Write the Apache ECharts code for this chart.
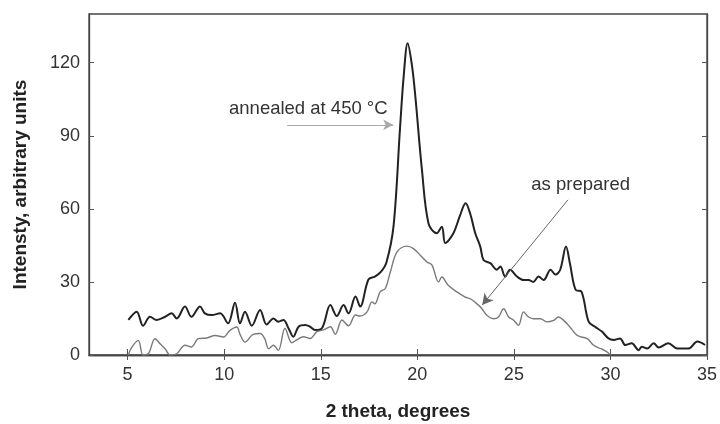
<!DOCTYPE html>
<html>
<head>
<meta charset="utf-8">
<script src="https://cdn.jsdelivr.net/npm/echarts@6/dist/echarts.min.js"></script>
<style>html,body{margin:0;padding:0;background:#fff}#c{width:720px;height:424px}</style>
</head>
<body>
<div id="c"></div>
<script>
var xTicks = [5, 10, 15, 20, 25, 30, 35];
var yTicks = [0, 30, 60, 90, 120];

var annealed = [
[5.04,14.4],[5.47,17.8],[5.8,12],[6.16,15.7],[6.5,14.4],[6.94,15.7],[7.28,17.1],[7.54,15],[7.97,19.9],[8.3,15.7],[8.75,19.9],[9.0,17.1],[9.36,16.4],[9.79,17.1],[10.2,13],[10.56,21.5],[10.82,13],[11.08,17.8],[11.43,12],[11.86,18.5],[12.2,12.5],[12.55,15],[12.8,13.7],[13.07,14.4],[13.33,11],[13.58,7.5],[13.85,11.6],[14.2,12.3],[14.45,11.6],[14.7,10.3],[15.06,11],[15.5,20.5],[15.83,16],[16.18,20.5],[16.44,17.1],[16.8,24],[17.04,19.9],[17.47,31],[17.8,32.2],[18.1,34],[18.4,38],[18.77,53],[19.1,92.5],[19.3,115],[19.5,128],[19.72,119],[19.9,106],[20.24,76],[20.58,54],[21.0,50],[21.27,52.7],[21.45,46],[21.87,50],[22.2,57],[22.5,62.3],[22.74,58],[23.0,50],[23.26,44.5],[23.43,39],[23.78,37.7],[24.12,35],[24.3,36.3],[24.55,32.2],[24.8,35],[25.16,32.2],[25.5,30.8],[25.76,30.8],[26.0,30],[26.28,32.2],[26.54,30.8],[26.9,35],[27.15,33],[27.4,35],[27.7,44.5],[27.9,37.7],[28.2,26.7],[28.5,26],[28.87,13.7],[29.2,11.6],[29.56,9.6],[29.9,6.8],[30.17,6.2],[30.5,6.8],[30.77,4.1],[31.1,4.8],[31.46,2],[31.63,3.4],[31.9,2.7],[32.24,4.8],[32.5,3.1],[33.0,4.8],[33.45,2.7],[34.05,2.7],[34.5,5.5],[34.9,4.1]
];

var asPrepared = [
[5.04,0],[5.2,3],[5.55,6],[5.8,0],[6.07,0.5],[6.42,6.7],[6.68,4.6],[6.94,2.6],[7.2,0],[7.54,0.5],[7.97,4],[8.3,3.3],[8.66,6.7],[9.1,7],[9.53,8],[9.96,7.4],[10.3,10.1],[10.65,11.5],[10.82,8.5],[11.08,5.3],[11.5,8.5],[11.86,8.8],[12.1,6.7],[12.3,2.6],[12.55,4],[12.8,1.9],[13.15,11],[13.5,5],[13.76,6.2],[14.1,7.5],[14.45,6.8],[14.8,9.6],[15.14,10.3],[15.5,11.6],[15.75,8.5],[16.1,14.4],[16.44,12],[16.8,16.4],[17.04,16],[17.4,17.7],[17.65,21.8],[17.8,21],[18.08,26],[18.34,27.3],[18.6,34],[18.95,42.3],[19.46,44.7],[19.8,43.7],[20.15,41],[20.5,38.2],[20.76,36.9],[21.1,30],[21.27,32],[21.6,28.6],[22.05,25.9],[22.48,23.8],[22.74,23.1],[23.09,21],[23.35,19],[23.6,16.3],[23.95,14.9],[24.2,15.6],[24.47,19],[24.73,15.6],[25.0,14.2],[25.24,12.2],[25.5,17.7],[25.76,15.6],[26.02,14.9],[26.37,14.9],[26.7,13.6],[27.06,14.2],[27.3,15.6],[27.66,13.6],[27.9,11.5],[28.27,8.1],[28.5,7.4],[28.8,6.7],[29.13,4],[29.5,2.6],[29.8,1.4],[30.0,0]
];

var annealedLabel = 'annealed at 450 °C';
var preparedLabel = 'as prepared';
var annealedArrow = [[13.26, 94.5], [18.75, 94.5]];
var preparedArrow = [[27.8, 63.7], [23.36, 20.5]];
var annealedLabelAt = [10.25, 101];
var preparedLabelAt = [25.9, 69.9];

var FONT = 'Liberation Sans, Arial, sans-serif';
var chart = echarts.init(document.getElementById('c'), null, {renderer: 'canvas'});

var axisLine = {show: true, lineStyle: {color: '#444', width: 1.3}};
var option = {
  animation: false,
  backgroundColor: '#fff',
  grid: {left: 89, right: 13, top: 14, bottom: 69, show: true, borderColor: '#444', borderWidth: 1.3, containLabel: false, outerBoundsMode: 'none'},
  xAxis: [{
    type: 'value', min: 3, max: 35, position: 'bottom',
    name: '2 theta, degrees', nameLocation: 'middle', nameGap: 47,
    nameTextStyle: {fontFamily: FONT, fontSize: 19, fontWeight: 'bold', color: '#222'},
    axisLine: axisLine,
    axisTick: {show: true, inside: true, length: 6, customValues: xTicks, lineStyle: {color: '#555'}},
    axisLabel: {show: true, customValues: xTicks, margin: 11, fontFamily: FONT, fontSize: 18, color: '#333'},
    splitLine: {show: false}
  }, {
    type: 'value', min: 3, max: 35, position: 'top',
    axisLine: axisLine,
    axisTick: {show: true, inside: true, length: 5, customValues: xTicks, lineStyle: {color: '#555'}},
    axisLabel: {show: false},
    splitLine: {show: false}
  }],
  yAxis: [{
    type: 'value', min: 0, max: 140, position: 'left',
    name: 'Intensty, arbitrary units', nameLocation: 'middle', nameGap: 59,
    nameTextStyle: {fontFamily: FONT, fontSize: 19, fontWeight: 'bold', color: '#222'},
    axisLine: axisLine,
    axisTick: {show: true, inside: true, length: 5, customValues: yTicks, lineStyle: {color: '#555'}},
    axisLabel: {show: true, customValues: yTicks, margin: 9, fontFamily: FONT, fontSize: 18, color: '#333'},
    splitLine: {show: false}
  }, {
    type: 'value', min: 0, max: 140, position: 'right',
    axisLine: axisLine,
    axisTick: {show: true, inside: true, length: 5, customValues: yTicks, lineStyle: {color: '#555'}},
    axisLabel: {show: false},
    splitLine: {show: false}
  }],
  series: [{
    name: 'as prepared', type: 'line', data: asPrepared, xAxisIndex: 0, yAxisIndex: 0,
    showSymbol: false, smooth: 0.35, clip: true,
    lineStyle: {color: '#7a7a7a', width: 1.4},
    markLine: {
      silent: true, symbol: ['none', 'arrow'], symbolSize: [9, 11],
      label: {show: false},
      lineStyle: {color: '#666', width: 1, type: 'solid'},
      data: [[{coord: preparedArrow[0]}, {coord: preparedArrow[1]}]]
    }
  }, {
    name: 'annealed', type: 'line', data: annealed, xAxisIndex: 0, yAxisIndex: 0,
    showSymbol: false, smooth: 0.35, clip: true,
    lineStyle: {color: '#222', width: 2},
    markLine: {
      silent: true, symbol: ['none', 'arrow'], symbolSize: [8, 10],
      label: {show: false},
      lineStyle: {color: '#aaa', width: 1, type: 'solid'},
      data: [[{coord: annealedArrow[0]}, {coord: annealedArrow[1]}]]
    }
  }]
};
chart.setOption(option);

var p1 = chart.convertToPixel({xAxisIndex: 0, yAxisIndex: 0}, annealedLabelAt);
var p2 = chart.convertToPixel({xAxisIndex: 0, yAxisIndex: 0}, preparedLabelAt);
chart.setOption({
  graphic: [
    {type: 'text', x: p1[0], y: p1[1], style: {text: annealedLabel, fontFamily: FONT, fontSize: 18.5, fill: '#333', verticalAlign: 'middle', align: 'left'}},
    {type: 'text', x: p2[0], y: p2[1], style: {text: preparedLabel, fontFamily: FONT, fontSize: 18.5, fill: '#333', verticalAlign: 'middle', align: 'left'}}
  ]
});
</script>
</body>
</html>
